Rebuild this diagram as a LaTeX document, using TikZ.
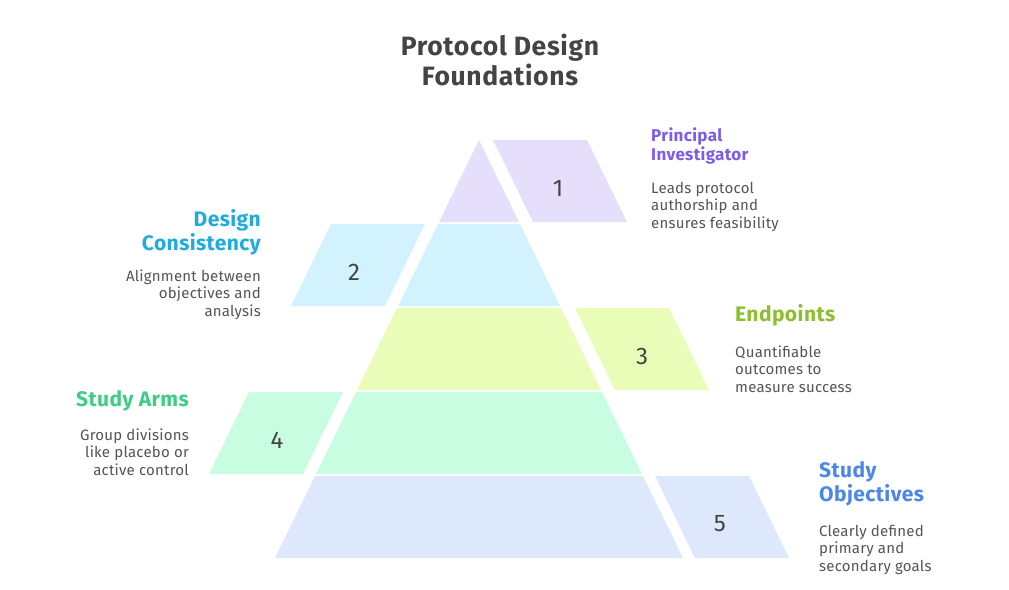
\documentclass[tikz,border=0pt]{standalone}
\usepackage{fontspec}
\setmainfont{Fira Sans}
\definecolor{fillA}{HTML}{E5DFFC}
\definecolor{fillB}{HTML}{D2F3FD}
\definecolor{fillC}{HTML}{EAFDB8}
\definecolor{fillD}{HTML}{C8FDE2}
\definecolor{fillE}{HTML}{DDE8FD}
\definecolor{headA}{HTML}{7C5CEB}
\definecolor{headB}{HTML}{1FACDD}
\definecolor{headC}{HTML}{8CBF2F}
\definecolor{headD}{HTML}{3ECC86}
\definecolor{headE}{HTML}{4A87E6}
\definecolor{titlec}{HTML}{444444}
\definecolor{bodyc}{HTML}{555555}
\begin{document}
\begin{tikzpicture}[x=1pt,y=-1pt]
\tikzset{
  numlabel/.style={font=\fontsize{24}{24}\selectfont, text=titlec, inner sep=0pt},
  headlabel/.style={font=\bfseries\fontsize{21}{24}\selectfont\addfontfeature{LetterSpace=2}, inner sep=0pt},
  smallhead/.style={font=\bfseries\fontsize{17}{17}\selectfont\addfontfeature{LetterSpace=2}, inner sep=0pt},
  bodylabel/.style={font=\fontsize{15}{17.5}\selectfont\addfontfeature{LetterSpace=1.5}, text=bodyc, inner sep=0pt},
}
\useasboundingbox (0,0) rectangle (1009,589);
\fill[white] (0,0) rectangle (1009,589);
% title
\node[font=\bfseries\fontsize{26.5}{30}\selectfont\addfontfeature{LetterSpace=2.5}, text=titlec, align=center, anchor=base, inner sep=0pt] (title) at (500,85) {Protocol Design\\Foundations};
% pyramid levels
\fill[fillA] (479,140) -- (519,222) -- (439,222) -- cycle;
\fill[fillB] (438,224) -- (520,224) -- (560,306) -- (398,306) -- cycle;
\fill[fillC] (397,308) -- (561,308) -- (601,390) -- (357,390) -- cycle;
\fill[fillD] (356,392) -- (602,392) -- (642,474) -- (316,474) -- cycle;
\fill[fillE] (315,476) -- (643,476) -- (683,558) -- (275,558) -- cycle;
% side parallelograms
\fill[fillA] (493,140) -- (587,140) -- (627,222) -- (533,222) -- cycle;
\fill[fillB] (331,224) -- (425,224) -- (385,306) -- (291,306) -- cycle;
\fill[fillC] (575,308) -- (669,308) -- (709,390) -- (615,390) -- cycle;
\fill[fillD] (249,392) -- (343,392) -- (303,474) -- (209,474) -- cycle;
\fill[fillE] (655,476) -- (749,476) -- (789,558) -- (695,558) -- cycle;
% numbers
\node[numlabel] (n1) at (558,188) {1};
\node[numlabel] (n2) at (354,272.5) {2};
\node[numlabel] (n3) at (642,356) {3};
\node[numlabel] (n4) at (277,440) {4};
\node[numlabel] (n5) at (720,524) {5};
% labels (base anchor = baseline of last line)
\node[smallhead, text=headA, align=left, anchor=base west] (h1) at (651,160) {Principal\\Investigator};
\node[bodylabel, align=left, anchor=base west] (b1) at (651,228) {Leads protocol\\authorship and\\ensures feasibility};
\node[headlabel, text=headB, align=right, anchor=base east] (h2) at (261,250) {Design\\Consistency};
\node[bodylabel, align=right, anchor=base east] (b2) at (261,316) {Alignment between\\objectives and\\analysis};
\node[headlabel, text=headC, align=left, anchor=base west] (h3) at (735,321) {Endpoints};
\node[bodylabel, align=left, anchor=base west] (b3) at (735,392) {Quantifiable\\outcomes to\\measure success};
\node[headlabel, text=headD, align=right, anchor=base east] (h4) at (189,406) {Study Arms};
\node[bodylabel, align=right, anchor=base east] (b4) at (189,475) {Group divisions\\like placebo or\\active control};
\node[headlabel, text=headE, align=left, anchor=base west] (h5) at (819,501) {Study\\Objectives};
\node[bodylabel, align=left, anchor=base west] (b5) at (819,571) {Clearly defined\\primary and\\secondary goals};
\end{tikzpicture}
\end{document}
